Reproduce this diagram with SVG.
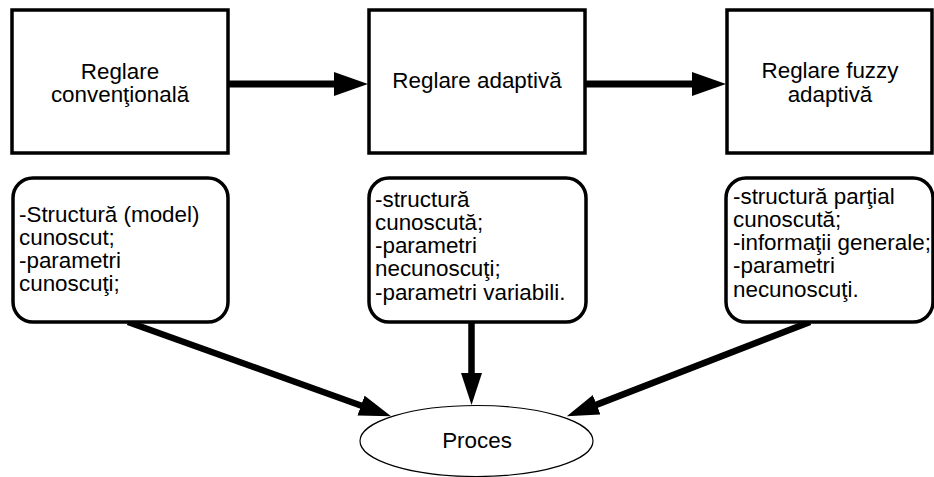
<svg xmlns="http://www.w3.org/2000/svg" width="934" height="477" viewBox="0 0 934 477">
  <style>
    .box { fill: #ffffff; stroke: #000000; stroke-width: 3.5; }
    .note { fill: #ffffff; stroke: #000000; stroke-width: 3.5; }
    .proc { fill: #ffffff; stroke: #000000; stroke-width: 1.2; }
    .lbl { font-family: "Liberation Sans", Arial, sans-serif; font-size: 22.4px; fill: #000000; }
    .mid { text-anchor: middle; }
    .link { fill: none; stroke: #000000; stroke-width: 6.5; stroke-linecap: butt; }
    .flow { fill: none; stroke: #000000; stroke-width: 7; stroke-linecap: round; }
  </style>
  <defs>
    <marker id="head" markerUnits="userSpaceOnUse" markerWidth="36" markerHeight="26" refX="2" refY="12" orient="auto">
      <path d="M0,0 L34,12 L0,24 z" fill="#000000"/>
    </marker>
    <marker id="head-sm" markerUnits="userSpaceOnUse" markerWidth="34" markerHeight="24" refX="2" refY="10.5" orient="auto">
      <path d="M0,0 L32,10.5 L0,21 z" fill="#000000"/>
    </marker>
  </defs>

  <!-- connectors -->
  <g id="connectors">
    <line class="flow" x1="228" y1="84" x2="336" y2="84" marker-end="url(#head)"/>
    <line class="flow" x1="585" y1="84" x2="694" y2="84" marker-end="url(#head)"/>
    <line class="link" x1="128" y1="322" x2="362.9" y2="406.2" marker-end="url(#head-sm)"/>
    <line class="link" x1="471.5" y1="322" x2="471.5" y2="375" marker-end="url(#head-sm)"/>
    <line class="link" x1="810" y1="322" x2="594.8" y2="405.4" marker-end="url(#head-sm)"/>
  </g>

  <!-- top row: control approaches -->
  <g id="conventional">
    <rect class="box" x="12" y="10" width="216" height="143"/>
    <text class="lbl mid" x="120" y="79">Reglare</text>
    <text class="lbl mid" x="120" y="102">convenţională</text>
  </g>
  <g id="adaptive">
    <rect class="box" x="369" y="10" width="216" height="143"/>
    <text class="lbl mid" x="477" y="88">Reglare adaptivă</text>
  </g>
  <g id="fuzzy-adaptive">
    <rect class="box" x="727" y="10" width="205" height="143"/>
    <text class="lbl mid" x="830" y="78">Reglare fuzzy</text>
    <text class="lbl mid" x="830" y="102">adaptivă</text>
  </g>

  <!-- middle row: what is known about the plant -->
  <g id="note-conventional">
    <rect class="note" x="13" y="178" width="215" height="144" rx="20" ry="20"/>
    <text class="lbl" x="19" y="222">-Structură (model)</text>
    <text class="lbl" x="19" y="245">cunoscut;</text>
    <text class="lbl" x="19" y="268">-parametri</text>
    <text class="lbl" x="19" y="291">cunoscuţi;</text>
  </g>
  <g id="note-adaptive">
    <rect class="note" x="369" y="178" width="217" height="144" rx="20" ry="20"/>
    <text class="lbl" x="375" y="206.5">-structură</text>
    <text class="lbl" x="375" y="229.8">cunoscută;</text>
    <text class="lbl" x="375" y="253">-parametri</text>
    <text class="lbl" x="375" y="276.3">necunoscuţi;</text>
    <text class="lbl" x="375" y="299.6">-parametri variabili.</text>
  </g>
  <g id="note-fuzzy">
    <rect class="note" x="726" y="178" width="207" height="144" rx="20" ry="20"/>
    <text class="lbl" x="733" y="203.5">-structură parţial</text>
    <text class="lbl" x="733" y="226.8">cunoscută;</text>
    <text class="lbl" x="733" y="250">-informaţii generale;</text>
    <text class="lbl" x="733" y="273.3">-parametri</text>
    <text class="lbl" x="733" y="296.6">necunoscuţi.</text>
  </g>

  <!-- bottom: the process -->
  <g id="process">
    <ellipse class="proc" cx="476.5" cy="441" rx="116.5" ry="35.5"/>
    <text class="lbl mid" x="477" y="448">Proces</text>
  </g>
</svg>
